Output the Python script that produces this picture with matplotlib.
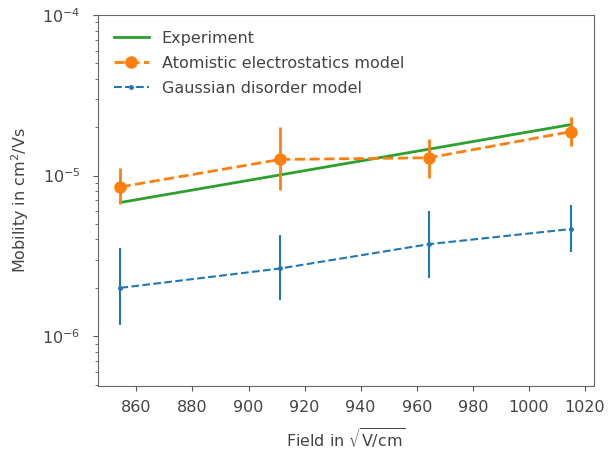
import numpy as np
import matplotlib
matplotlib.use('Agg')
import matplotlib.pyplot as plt

# field values (sqrt(V/cm))
field = [854.3, 911.3, 964.3, 1015.2]

# experiment
mu_exp = [6.8e-6, 1.01e-5, 1.46e-5, 2.08e-5]

# atomistic electrostatics model
mu_ae = [8.5e-6, 1.26e-5, 1.29e-5, 1.88e-5]
ae_lo = [6.7e-6, 8.1e-6, 9.6e-6, 1.52e-5]
ae_hi = [1.12e-5, 2.0e-5, 1.70e-5, 2.33e-5]

# gaussian disorder model
mu_gd = [2.0e-6, 2.64e-6, 3.74e-6, 4.65e-6]
gd_lo = [1.17e-6, 1.67e-6, 2.30e-6, 3.33e-6]
gd_hi = [3.53e-6, 4.25e-6, 6.0e-6, 6.55e-6]

labels = ['Experiment', 'Atomistic electrostatics model', 'Gaussian disorder model']

plt.rcParams['font.size'] = 11.5
plt.rcParams['mathtext.fontset'] = 'dejavusans'
plt.rcParams['text.color'] = '#444444'
plt.rcParams['axes.labelcolor'] = '#444444'
plt.rcParams['xtick.color'] = '#555555'
plt.rcParams['ytick.color'] = '#555555'
plt.rcParams['xtick.labelcolor'] = '#444444'
plt.rcParams['ytick.labelcolor'] = '#444444'
plt.rcParams['axes.edgecolor'] = '#666666'
plt.rcParams['xtick.major.pad'] = 6.5
plt.rcParams['ytick.major.pad'] = 9

fig = plt.figure(figsize=(6.08, 4.53), dpi=100)
ax = fig.add_axes([0.161, 0.148, 0.816, 0.819])

ln, = ax.plot(field, mu_exp, '-', color='tab:green', lw=2)

ae_err = [np.array(mu_ae) - np.array(ae_lo), np.array(ae_hi) - np.array(mu_ae)]
eb1 = ax.errorbar(field, mu_ae, yerr=ae_err, fmt='o--', color='tab:orange',
                  lw=2, ms=8, elinewidth=2, capsize=0)

gd_err = [np.array(mu_gd) - np.array(gd_lo), np.array(gd_hi) - np.array(mu_gd)]
eb2 = ax.errorbar(field, mu_gd, yerr=gd_err, fmt='.--', color='tab:blue',
                  lw=1.5, ms=5, elinewidth=1.5, capsize=0)

ax.set_yscale('log')
ax.set_ylim(4.9e-7, 1e-4)
ax.set_xticks(np.arange(860, 1021, 20))
ax.set_xlabel(r'Field in $\sqrt{\mathrm{V/cm}}$', labelpad=9)
ax.set_ylabel(r'Mobility in cm$^2$/Vs', labelpad=8)
ax.legend([ln, eb1[0], eb2[0]], labels, loc='upper left', frameon=False,
          handlelength=2.2, labelspacing=0.62, borderaxespad=0.6)

fig.savefig('out.png', dpi=100)
